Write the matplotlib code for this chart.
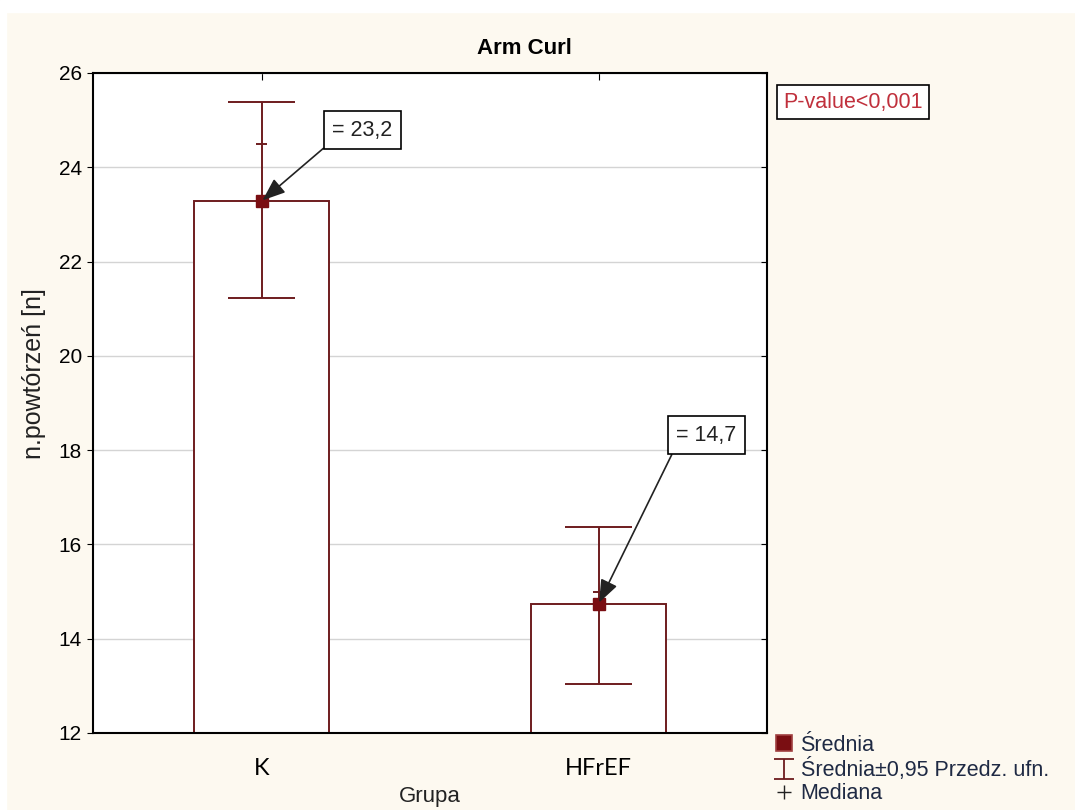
import numpy as np
import matplotlib
matplotlib.use('Agg')
import matplotlib.pyplot as plt
from matplotlib.lines import Line2D
from matplotlib.patches import Rectangle
from matplotlib.path import Path

plt.rcParams['font.family'] = ['Liberation Sans', 'DejaVu Sans']

groups = ['K', 'HFrEF']
means = [23.28, 14.74]
ci_low = [21.23, 13.04]
ci_high = [25.38, 16.37]
medians = [24.5, 15.0]
mean_labels = ['= 23,2', '= 14,7']
label_pos = [(0.30, 24.79), (1.32, 18.32)]
yticks = [12, 14, 16, 18, 20, 22, 24, 26]

maroon = '#6E1C1E'
cream = '#FDF9F0'

fig = plt.figure(figsize=(10.75, 8.1), dpi=100)
fig.patch.set_facecolor(cream)
fig.add_artist(Rectangle((0, 1 - 12 / 810), 1, 12 / 810, color='white',
                         transform=fig.transFigure, zorder=-1))
fig.add_artist(Rectangle((0, 0), 6 / 1075, 1, color='white',
                         transform=fig.transFigure, zorder=-1))

ax = fig.add_axes([93 / 1075, 1 - 733 / 810, 674 / 1075, 660 / 810])
ax.set_facecolor('white')
x = np.arange(len(groups))

ax.set_axisbelow(True)
ax.yaxis.grid(True, color='#D4D4D4', lw=1)
ax.bar(x, means, width=0.4, color='white', edgecolor=maroon, lw=1.4, zorder=2)
ax.vlines(x, ci_low, ci_high, color=maroon, lw=1.4, zorder=3)
ax.hlines(ci_low, x - 0.1, x + 0.1, color=maroon, lw=1.4, zorder=3)
ax.hlines(ci_high, x - 0.1, x + 0.1, color=maroon, lw=1.4, zorder=3)
ax.hlines(medians, x - 0.017, x + 0.017, color=maroon, lw=1.4, zorder=3)
ax.plot(x, means, 's', color='#7A0E12', ms=8, zorder=4)

for xi, m, lab, pos in zip(x, means, mean_labels, label_pos):
    ax.annotate(lab, xy=(xi, m), xytext=pos, ha='center', va='center',
                fontsize=15.5, color='#222222',
                bbox=dict(boxstyle='square,pad=0.4', fc='white', ec='black', lw=1.2),
                arrowprops=dict(arrowstyle='-|>,head_length=0.9,head_width=0.35',
                                color='#222222', lw=1.2, relpos=(0, 0),
                                shrinkA=0, shrinkB=1),
                zorder=5)

ax.set_xlim(-0.5, 1.5)
ax.set_ylim(12, 26)
ax.set_yticks(yticks)
ax.set_xticks(x)
ax.set_xticklabels(groups, fontfamily='Lato', fontsize=17)
ax.tick_params(axis='x', direction='in', pad=18, top=True, length=5)
ax.tick_params(axis='y', direction='out', labelsize=15, length=4, pad=4)
ax.tick_params(axis='y', which='both', right=True)
for t in ax.yaxis.get_ticklines()[1::2]:
    t.set_marker(0)
for s in ax.spines.values():
    s.set_linewidth(1.5)

ax.set_title('Arm Curl', fontsize=16, fontweight='bold', pad=14, x=0.64)
ax.set_xlabel('Grupa', fontsize=16, color='#222222')
ax.xaxis.set_label_coords(0.5, -0.08)
ax.set_ylabel('n.powtórzeń [n]', fontsize=18, color='#222222')
ax.yaxis.set_label_coords(-0.07, 0.544)

ax.text(1.024, 0.956, 'P-value<0,001', transform=ax.transAxes, ha='left',
        va='center', fontsize=15.5, color='#C0303C',
        bbox=dict(boxstyle='square,pad=0.3', fc='white', ec='black', lw=1.2))

ibeam = Path([(-1, -1), (1, -1), (0, -1), (0, 1), (-1, 1), (1, 1)],
             [Path.MOVETO, Path.LINETO, Path.MOVETO, Path.LINETO,
              Path.MOVETO, Path.LINETO])
handles = [
    Line2D([], [], marker='s', ls='', color='#7A0E12', mec='#A04040', mew=1.2, ms=11),
    Line2D([], [], marker=ibeam, ls='', color=maroon, mfc='none', mew=1.3, ms=15),
    Line2D([], [], marker='+', ls='', color='#222222', ms=10),
]
labels = ['Średnia', 'Średnia±0,95 Przedz. ufn.', 'Mediana']
ax.legend(handles, labels, loc='upper left', bbox_to_anchor=(1.013, -0.003),
          frameon=False, fontsize=15.5, handlelength=0.8, handletextpad=0.35,
          labelspacing=0.1, borderpad=0, borderaxespad=0,
          labelcolor='#1F2A44')

fig.savefig('out.png', dpi=100, facecolor=fig.get_facecolor())
